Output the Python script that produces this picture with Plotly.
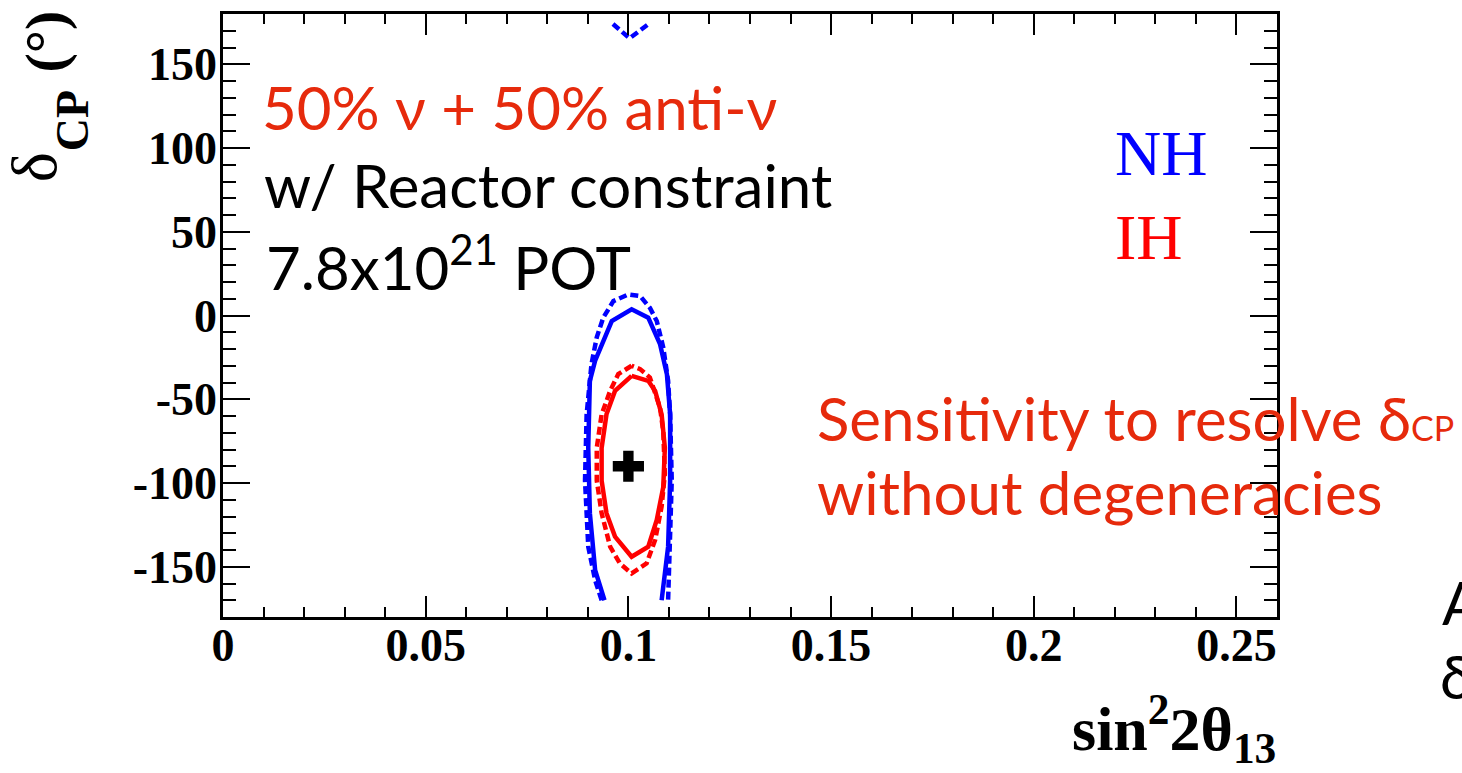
import plotly.graph_objects as go

# Best-fit point
true_s2 = [0.1]
true_dcp = [-90]

# Normal hierarchy contours (solid and dashed)
nh_solid_x = [0.0941, 0.0918, 0.0905, 0.0901, 0.0905, 0.0918, 0.0959, 0.1008, 0.1049,
              0.1078, 0.1095, 0.1103, 0.1103, 0.1098, 0.1082]
nh_solid_y = [-170, -152, -118, -79, -39, -27, -3.3, 3.7, -1.3,
              -17, -35, -59, -98.5, -138, -170]

nh_dashed_x = [0.0934, 0.0918, 0.0901, 0.0893, 0.0897, 0.0909, 0.0922, 0.0938, 0.0963, 0.1000,
               0.1029, 0.1053, 0.1070, 0.1086, 0.1098, 0.1103, 0.1107, 0.1103, 0.1098]
nh_dashed_y = [-170, -158, -138, -98.5, -59, -29, -13, -1.3, 8.6, 12.6,
               11.6, 4.6, -3.3, -19, -39, -59, -98.5, -138, -170]

# part of the dashed NH contour wrapping round from delta = -180 to +180
nh_dashed_top_x = [0.0962, 0.1003, 0.1047]
nh_dashed_top_y = [174, 165.5, 173.5]

# Inverted hierarchy contours (closed)
ih_solid_x = [0.1008, 0.0967, 0.0946, 0.0934, 0.0934, 0.0946, 0.0967, 0.1008, 0.1049,
              0.1070, 0.1086, 0.1090, 0.1082, 0.1066, 0.1049, 0.1008]
ih_solid_y = [-36, -45, -59, -79, -98.5, -118, -132, -144, -138,
              -122, -102.5, -79, -59, -45, -39, -36]

ih_dashed_x = [0.1008, 0.0975, 0.0955, 0.0934, 0.0922, 0.0922, 0.0934, 0.0955, 0.0979, 0.1008,
               0.1045, 0.1066, 0.1082, 0.1090, 0.1086, 0.1078, 0.1053, 0.1029, 0.1008]
ih_dashed_y = [-30, -35, -45, -59, -79, -98.5, -118, -138, -148, -154,
               -148, -134, -114, -94.5, -69, -55, -37, -32, -30]

y_tickvals = [-150, -100, -50, 0, 50, 100, 150]
y_ticktext = ["-150", "-100", "-50", "0", "50", "100", "150"]
x_tickvals = [0, 0.05, 0.1, 0.15, 0.2, 0.25]
x_ticktext = ["0", "0.05", "0.1", "0.15", "0.2", "0.25"]

BLUE = "#0000ff"
RED = "#ff0000"
TXT_RED = "#e62a0c"
SERIF = "Liberation Serif"
SANS = "Lato"

W, H = 1462, 773
L, R, T, B = 223.3, 1276.7, 11.9, 617.1


def px(x):
    return (x - L) / (R - L)


def py(y):
    return (B - y) / (B - T)


fig = go.Figure()

dash = "8px,4px"
fig.add_trace(go.Scatter(x=nh_solid_x, y=nh_solid_y, mode="lines",
                         line=dict(color=BLUE, width=4.5)))
fig.add_trace(go.Scatter(x=nh_dashed_x, y=nh_dashed_y, mode="lines",
                         line=dict(color=BLUE, width=4.5, dash=dash)))
fig.add_trace(go.Scatter(x=nh_dashed_top_x, y=nh_dashed_top_y, mode="lines",
                         line=dict(color=BLUE, width=4.5, dash=dash)))
fig.add_trace(go.Scatter(x=ih_solid_x, y=ih_solid_y, mode="lines",
                         line=dict(color=RED, width=4.5)))
fig.add_trace(go.Scatter(x=ih_dashed_x, y=ih_dashed_y, mode="lines",
                         line=dict(color=RED, width=4.5, dash=dash)))
fig.add_trace(go.Scatter(x=true_s2, y=true_dcp, mode="markers",
                         marker=dict(symbol="cross", size=26, color="black",
                                     line=dict(width=0))))

annotations = []


def ann(text, x, y, size, color="black", family=SANS, xanchor="left",
        yanchor="middle", angle=0):
    annotations.append(dict(text=text, x=px(x), y=py(y), xref="paper", yref="paper",
                            xanchor=xanchor, yanchor=yanchor, showarrow=False,
                            textangle=angle,
                            font=dict(size=size, color=color, family=family)))


ann("50% ν + 50% anti-ν", 260, 105, 60, TXT_RED)
ann("w/ Reactor constraint", 262, 184, 60)
ann("7.8x10<sup>21</sup> POT", 264, 262, 60)
ann("NH", 1113, 152, 64, BLUE, SERIF)
ann("IH", 1113, 236, 64, RED, SERIF)
ann("Sensitivity to resolve δ<span style='font-size:34px'>CP</span>", 815, 417, 60, TXT_RED)
ann("without degeneracies", 815, 492, 60, TXT_RED)
ann("A", 1440, 602, 60)
ann("δ", 1438, 676, 60)

# axis titles
ann("<b>sin<sup>2</sup>2θ<sub>13</sub></b>", 1278, 729, 62, family=SERIF, xanchor="right")
ann("δ", 35, 166, 64, family=SERIF, xanchor="center", angle=-90)
ann("<b>CP</b>", 73, 119, 46, family=SERIF, xanchor="center", angle=-90)
ann("<b>(°)</b>", 46, 40, 58, family=SERIF, xanchor="center", angle=-90)

axis_common = dict(showline=True, linecolor="black", linewidth=2.5, mirror="allticks",
                   ticks="inside", tickwidth=2, tickcolor="black", showgrid=False,
                   zeroline=False,
                   tickfont=dict(family=SERIF, size=46, color="black", weight="bold"))

fig.update_layout(
    width=W, height=H,
    margin=dict(l=L, r=W - R, t=T, b=H - B, pad=0),
    paper_bgcolor="white", plot_bgcolor="white",
    showlegend=False,
    annotations=annotations,
    xaxis=dict(range=[0, 0.26], tickmode="array", tickvals=x_tickvals, ticktext=x_ticktext,
               ticklen=21, ticklabelstandoff=-14,
               minor=dict(tickmode="linear", tick0=0, dtick=0.01, ticklen=10,
                          ticks="inside", tickwidth=2, tickcolor="black"),
               **axis_common),
    yaxis=dict(range=[-180, 180], tickmode="array", tickvals=y_tickvals, ticktext=y_ticktext,
               ticklen=27, ticklabelstandoff=-6,
               minor=dict(tickmode="linear", tick0=0, dtick=10, ticklen=13,
                          ticks="inside", tickwidth=2, tickcolor="black"),
               **axis_common),
)

fig.write_html("out.html")
